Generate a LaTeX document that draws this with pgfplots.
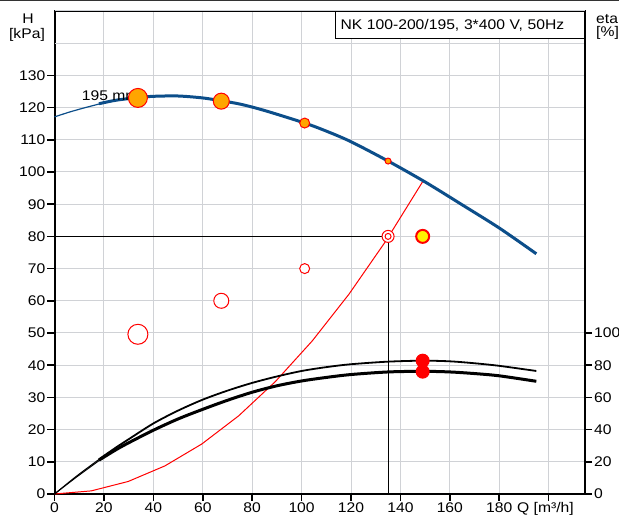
\documentclass[border=0pt]{standalone}
\usepackage{fontspec}
\setmainfont{Liberation Sans}[FakeStretch=1.12]
\usepackage{pgfplots}
\pgfplotsset{compat=1.18}
\definecolor{pumpblue}{RGB}{12,78,138}
\definecolor{gridgray}{RGB}{208,210,214}
\definecolor{mkorange}{RGB}{255,165,0}
\begin{document}
\fontsize{14}{16}\selectfont
\begin{tikzpicture}[font=\fontsize{14}{16}\selectfont]
\useasboundingbox (0,0) rectangle (619pt,518pt);
\begin{axis}[
  at={(54.5pt,24pt)}, anchor=south west,
  scale only axis, width=530.5pt, height=483pt,
  xmin=0, xmax=214.7, ymin=0, ymax=150,
  xtick={0,20,...,200},
  xticklabels={0,20,40,60,80,100,120,140,160,180,{}},
  ytick={0,10,...,130},
  extra y ticks={140,150}, extra y tick labels={},
  extra y tick style={major tick length=0pt, grid=major},
  grid=major, major grid style={gridgray, line width=1pt},
  axis line style={line width=2pt, black},
  tick style={line width=1.6pt, black},
  major tick length=7pt, tick align=outside,
  xtick pos=left, ytick pos=left,
  xticklabel style={inner sep=2pt},
  yticklabel style={inner sep=2pt},
  /pgf/number format/assume math mode=true,
  clip=false,
]
% system curve
\addplot[red, line width=1pt, sharp plot] coordinates {
 (0,0) (14.9,0.97) (29.8,3.88) (44.7,8.73) (59.6,15.52) (74.5,24.25)
 (89.4,34.92) (104.3,47.53) (119.2,62.08) (134.1,78.57) (149.0,97.0)};
% duty point lines
\addplot[black, line width=1pt, sharp plot] coordinates {(0,80) (135,80) (135,0)};
% pump curve H
\addplot[pumpblue, line width=1.2pt, smooth] coordinates {(0,117.1) (6,118.6) (12,119.9) (19,121.3)};
\addplot[pumpblue, line width=3pt, smooth] coordinates {
 (18,121.2) (25,122.3) (33.75,123.1) (40,123.5) (50,123.6) (60,123.0) (67.5,122.1)
 (75,121.1) (85,119.1) (101.25,115.2) (110,112.7) (120,109.4) (135,103.4)
 (150,96.9) (165,89.8) (180,82.6) (195,74.6)};
% black curves
\addplot[black, line width=1pt, smooth] coordinates {(0,0) (9,5.6) (19,11.3)};
\addplot[black, line width=1pt, smooth] coordinates {(0,0) (9,5.3) (19,10.9)};
\addplot[black, line width=1.8pt, smooth] coordinates {
 (18,10.8) (25,14.5) (30,17.0) (40,21.9) (50,25.9) (60,29.3) (70,32.1) (80,34.5)
 (90,36.5) (100,38.2) (110,39.4) (120,40.3) (135,41.1) (149,41.4) (160,41.2)
 (170,40.6) (180,39.8) (195,38.2)};
\addplot[black, line width=3pt, smooth] coordinates {
 (18,10.5) (25,13.8) (30,15.9) (40,19.8) (50,23.3) (60,26.3) (70,29.1) (80,31.6)
 (90,33.6) (100,35.1) (110,36.2) (120,37.1) (135,37.9) (149,38.1) (160,37.9)
 (170,37.4) (180,36.7) (195,35.0)};
% label
\node[anchor=west, inner sep=0pt] at (axis cs:11,123.6) {195 mm};
% orange points on pump curve
\addplot[only marks, mark=*, mark size=9.5pt, draw=red, fill=mkorange, line width=1pt] coordinates {(33.75,123.0)};
\addplot[only marks, mark=*, mark size=8pt, draw=red, fill=mkorange, line width=1pt] coordinates {(67.5,122.0)};
\addplot[only marks, mark=*, mark size=5pt, draw=red, fill=mkorange, line width=1pt] coordinates {(101.25,115.2)};
\addplot[only marks, mark=*, mark size=3pt, draw=red, fill=mkorange, line width=1pt] coordinates {(135,103.4)};
% open red circles
\addplot[only marks, mark=*, mark size=10pt, draw=red, fill=white, line width=1pt] coordinates {(33.75,49.6)};
\addplot[only marks, mark=*, mark size=7.5pt, draw=red, fill=white, line width=1pt] coordinates {(67.5,60)};
\addplot[only marks, mark=*, mark size=5pt, draw=red, fill=white, line width=1pt] coordinates {(101.25,70)};
\addplot[only marks, mark=*, mark size=6pt, draw=red, fill=white, line width=1pt] coordinates {(135,80)};
\addplot[only marks, mark=*, mark size=3pt, draw=red, fill=white, line width=1pt] coordinates {(135,80)};
% operating point markers
\addplot[only marks, mark=*, mark size=6.5pt, draw=red, fill=yellow, line width=2pt] coordinates {(149,80)};
\addplot[only marks, mark=*, mark size=6.5pt, draw=red, fill=red, line width=1pt] coordinates {(149,41.4) (149,38.0)};
% title box
\node[draw=black, line width=1pt, fill=white, anchor=north east, minimum height=27pt,
      text width=239pt, inner xsep=5pt, align=left] at (rel axis cs:1,1)
      {NK 100-200/195, 3*400 V, 50Hz};
\end{axis}
\begin{axis}[
  at={(54.5pt,24pt)}, anchor=south west,
  scale only axis, width=530.5pt, height=483pt,
  xmin=0, xmax=214.7, ymin=0, ymax=300,
  axis x line=none, axis y line*=right,
  ytick={0,20,...,100},
  axis line style={line width=2pt, black},
  tick style={line width=1.6pt, black},
  major tick length=7pt, tick align=outside,
  yticklabel style={inner sep=2pt},
  /pgf/number format/assume math mode=true,
]
\end{axis}
\node[anchor=base] at (28pt,494pt) {H};
\node[anchor=base] at (27pt,479pt) {[kPa]};
\node[anchor=base west, inner sep=0pt] at (596pt,494pt) {eta};
\node[anchor=base west, inner sep=0pt] at (596pt,481pt) {[\%]};
\node[anchor=base] at (545.5pt,5pt) {Q [m³/h]};
\draw[line width=2pt, black!80] (0,518pt) -- (619pt,518pt);
\end{tikzpicture}
\end{document}
